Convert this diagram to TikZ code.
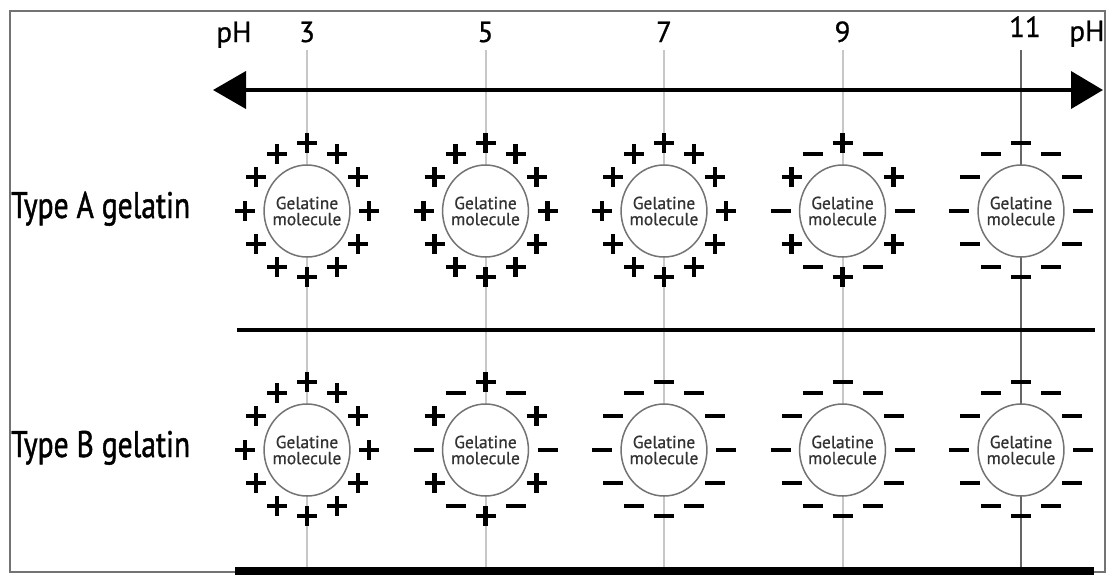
\documentclass[tikz,border=0pt]{standalone}
\usepackage{fontspec}
\setmainfont{PT Sans}
\newfontfamily\narrowfont[FakeStretch=0.8,FakeBold=1.2]{PT Sans}
\newfontfamily\molfont[FakeBold=0.6]{PT Sans}
\newfontfamily\numfont[FakeBold=0.8]{PT Sans}
\usepackage{tikz}
\usetikzlibrary{positioning,arrows.meta,shapes.geometric}

\tikzset{
  plus/.pic={\draw[line width=4.5] (-10,0)--(10,0) (0,-10)--(0,10);},
  minus/.pic={\draw[line width=4.5] (-10,0)--(10,0);},
  % ring of twelve charges round a molecule
  allpos/.pic={
    \foreach \dx/\dy in {0/-68,30/-57,-30/-57,51/-34,-51/-34,62/0,-62/0,51/33,-51/33,30/56,-30/56,0/66}
      \pic at (\dx,\dy) {plus};},
  allneg/.pic={
    \foreach \dx/\dy in {0/-68,30/-57,-30/-57,51/-34,-51/-34,62/0,-62/0,51/33,-51/33,30/56,-30/56,0/66}
      \pic at (\dx,\dy) {minus};},
  mixed/.pic={
    \foreach \dx/\dy in {0/-68,51/-34,-51/-34,51/33,-51/33,0/66}
      \pic at (\dx,\dy) {plus};
    \foreach \dx/\dy in {30/-57,-30/-57,62/0,-62/0,30/56,-30/56}
      \pic at (\dx,\dy) {minus};}
}

\begin{document}
\begin{tikzpicture}[x=1pt,y=-1pt,>=stealth]
\tikzstyle{molecule}=[ellipse,draw=black!55,line width=1.5,fill=white,inner xsep=-4pt,inner ysep=0pt,minimum width=80pt,minimum height=92pt,align=center,text=black!80,font=\molfont\fontsize{17.5}{16}\selectfont]
\tikzstyle{phlabel}=[anchor=base,inner sep=0pt,font=\numfont\fontsize{29}{30}\selectfont]
\tikzstyle{typelabel}=[anchor=base west,inner sep=0pt,font=\narrowfont\fontsize{37}{40}\selectfont]
\tikzstyle{phline}=[draw=black!22,line width=2]
\useasboundingbox (0,0) rectangle (1108,574);
\draw[black!55,line width=2] (10,11) rectangle (1105,572);

% pH scale
\node[phlabel] (phL) at (234,42) {pH};
\node[phlabel] (phR) at (1087,41) {pH};
\foreach \ph/\px in {3/307,5/485.5,7/664,9/842.5} {
  \node[phlabel] (ph\ph) at (\px,42) {\ph};
  \coordinate (t\ph) at (\px,50);
  \coordinate (b\ph) at (\px,567);
  \draw[phline] (t\ph) -- (b\ph);
}
\node[phlabel] (ph11) at (1025,37) {11};
\coordinate (t11) at (1021,50);
\coordinate (b11) at (1021,567);
\draw[phline,draw=black!60] (t11) -- (b11);

\coordinate (arrL) at (213,90);
\coordinate (arrR) at (1103,90);
\draw[{Triangle[length=33pt,width=37pt]}-{Triangle[length=32pt,width=37pt]},line width=4] (arrL) -- (arrR);

% rows
\node[typelabel] (typeA) at (11,218) {Type A gelatin};
\node[typelabel] (typeB) at (11,457) {Type B gelatin};
\coordinate (sepL) at (237,330);
\coordinate (sepR) at (1095,330);
\draw[line width=4] (sepL) -- (sepR);
\coordinate (botL) at (235,571);
\coordinate (botR) at (1094,571);
\draw[line width=8] (botL) -- (botR);

\foreach \ph/\px in {3/307,5/485.5,7/664,9/842.5,11/1021} {
  \node[molecule] (molA\ph) at (\px,211) {Gelatine\\molecule};
  \node[molecule] (molB\ph) at (\px,450) {Gelatine\\molecule};
}
\pic at (molA3) {allpos};
\pic at (molA5) {allpos};
\pic at (molA7) {allpos};
\pic at (molA9) {mixed};
\pic at (molA11) {allneg};
\pic at (molB3) {allpos};
\pic at (molB5) {mixed};
\pic at (molB7) {allneg};
\pic at (molB9) {allneg};
\pic at (molB11) {allneg};
\end{tikzpicture}
\end{document}
